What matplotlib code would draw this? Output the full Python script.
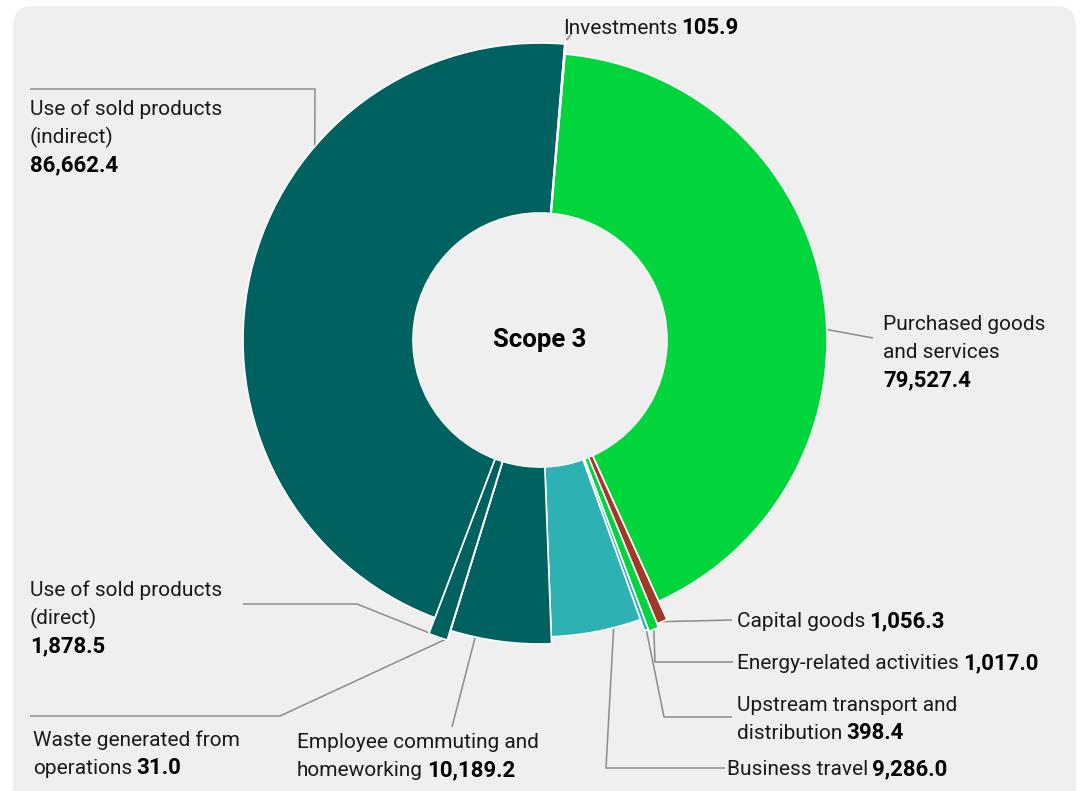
import matplotlib

matplotlib.use("Agg")

import matplotlib.pyplot as plt
import numpy as np
from matplotlib.patches import Wedge, Circle, FancyBboxPatch

# Scope 3 emissions by category (clockwise from the top)
categories = [
    "Purchased goods and services",
    "Capital goods",
    "Energy-related activities",
    "Upstream transport and distribution",
    "Business travel",
    "Employee commuting and homeworking",
    "Waste generated from operations",
    "Use of sold products (direct)",
    "Use of sold products (indirect)",
    "Investments",
]
values = [79527.4, 1056.3, 1017.0, 398.4, 9286.0, 10189.2, 31.0, 1878.5, 86662.4, 105.9]

# label text split into regular lines, with the bold figure after the last one
label_lines = [
    ["Purchased goods", "and services", ""],
    ["Capital goods"],
    ["Energy-related activities"],
    ["Upstream transport and", "distribution"],
    ["Business travel"],
    ["Employee commuting and", "homeworking"],
    ["Waste generated from", "operations"],
    ["Use of sold products", "(direct)", ""],
    ["Use of sold products", "(indirect)", ""],
    ["Investments"],
]

# styling
DARK = "#006260"
GREEN = "#00d63c"
TEAL = "#2db1b3"
RUST = "#a0392a"
colors = [GREEN, RUST, GREEN, TEAL, TEAL, DARK, DARK, DARK, DARK, DARK]
outer_r = [287, 307, 311, 309, 297, 304, 312, 314, 297, 300]
inner_r = 127
cx, cy = 540, 340
start = 85  # degrees, measured anticlockwise from 3 o'clock

# text anchor (x, first baseline) and leader elbow for each label
text_pos = [(883, 330), (737, 627), (737, 669), (737, 711), (727, 775),
            (297, 748), (33, 746), (30, 596), (30, 115), (563, 34)]
elbows = [[(873, 338)], [(732, 620)], [(655, 662), (733, 662)],
          [(664, 717), (732, 717)], [(606, 768), (725, 768)],
          [(452, 727)], [(280, 716), (30, 716)], [(357, 604), (243, 604)],
          [(315, 89), (30, 89)], [(572, 33)]]
leader_frac = [0.55, 0.5, 0.5, 0.5, 0.3, 0.75, 0.5, 0.1, 0.18, 0.5]

plt.rcParams["font.family"] = ["Roboto", "DejaVu Sans"]
FS = 15
FS_BOLD = 16
LINE = 28

fig = plt.figure(figsize=(10.86, 7.91), dpi=100)
fig.patch.set_facecolor("white")
ax = fig.add_axes([0, 0, 1, 1])
ax.set_xlim(0, 1086)
ax.set_ylim(791, 0)
ax.set_aspect("equal")
ax.axis("off")

ax.add_patch(FancyBboxPatch((13, 6), 1063, 800,
                            boxstyle="round,pad=0,rounding_size=20",
                            facecolor="#efefef", edgecolor="none", zorder=0))

# y axis points down, so data angles grow clockwise on screen
vals = np.array(values)
spans = vals / vals.sum() * 360
edges = -start + np.concatenate([[0], np.cumsum(spans)])

for i in range(len(values)):
    t1, t2 = edges[i], edges[i + 1]
    ax.add_patch(Wedge((cx, cy), outer_r[i], t1, t2, width=outer_r[i] - inner_r,
                       facecolor=colors[i], edgecolor="white", linewidth=1.2, zorder=2))

ax.add_patch(Circle((cx, cy), inner_r, facecolor="#efefef", edgecolor="none", zorder=3))
ax.text(cx, cy, "Scope 3", ha="center", va="center", fontsize=18.5,
        fontweight="bold", color="black", zorder=4)

fig.canvas.draw()
renderer = fig.canvas.get_renderer()


def value_text(v):
    return f"{v:,.1f}"


for i in range(len(values)):
    # leader line from the slice edge through the elbow points
    ang = np.radians(edges[i] + leader_frac[i] * spans[i])
    r = outer_r[i] - (2 if spans[i] > 5 else 0)
    x0, y0 = cx + r * np.cos(ang), cy + r * np.sin(ang)
    pts = [(x0, y0)] + elbows[i]
    ax.plot([p[0] for p in pts], [p[1] for p in pts], color="#8c8c8c",
            linewidth=1.1, zorder=1, solid_capstyle="butt")

    tx, ty = text_pos[i]
    lines = label_lines[i]
    for j, line in enumerate(lines):
        y = ty + j * LINE
        last = j == len(lines) - 1
        if line:
            t = ax.text(tx, y, line, fontsize=FS, color="#1a1a1a",
                        ha="left", va="baseline", zorder=4)
            if last:
                bb = t.get_window_extent(renderer)
                ax.text(tx + bb.width + 4, y, value_text(values[i]), fontsize=FS_BOLD,
                        fontweight="bold", color="black", ha="left",
                        va="baseline", zorder=4)
        elif last:
            ax.text(tx, y, value_text(values[i]), fontsize=FS_BOLD, fontweight="bold",
                    color="black", ha="left", va="baseline", zorder=4)

fig.savefig("out.png", dpi=100)
plt.close(fig)
